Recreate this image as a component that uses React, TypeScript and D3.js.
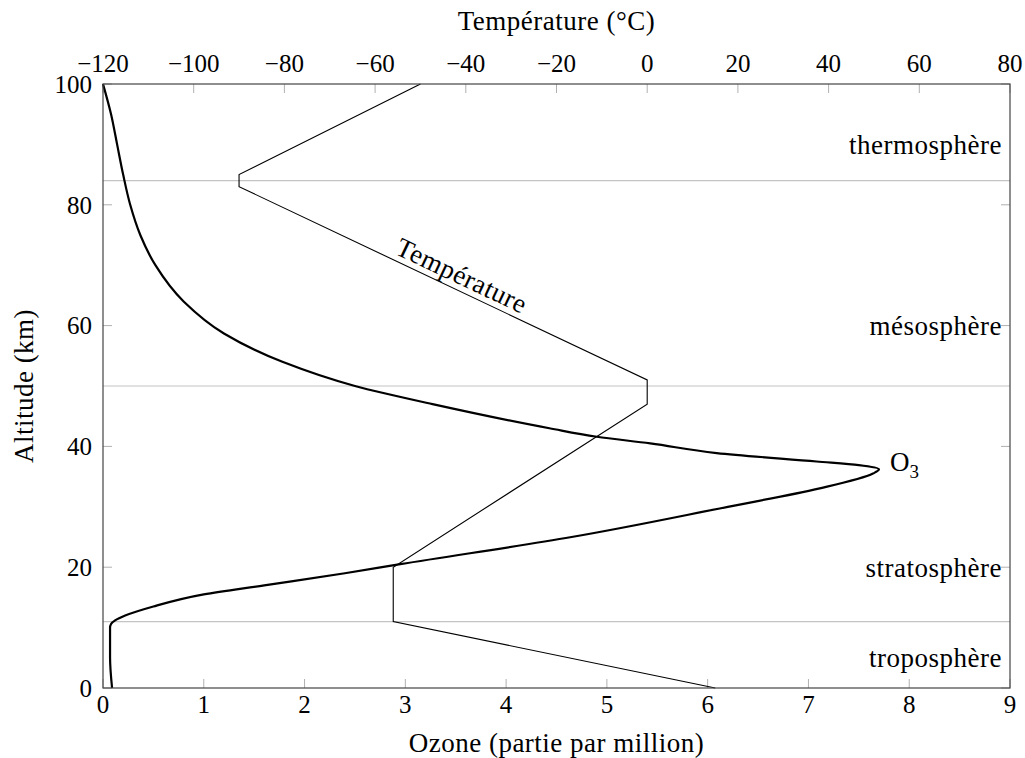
import React, { useEffect, useRef } from "react";
import * as d3 from "d3";

// ozone profile (ppm) read along altitude (km)
const ozoneAltitude = [0, 5, 10, 10.6, 11.2, 12, 13.5, 15.5, 17, 19, 20.5, 25, 30, 33, 35.5, 36.2, 36.9, 37.5, 38.9, 40.5, 41.6, 43, 47, 50, 54, 58.7, 64, 70, 75, 80, 85, 90, 95, 100];
const ozonePpm = [0.09, 0.07, 0.07, 0.08, 0.12, 0.22, 0.5, 1.0, 1.6, 2.4, 2.95, 4.65, 6.2, 7.1, 7.64, 7.7, 7.5, 7.08, 6.09, 5.43, 4.9, 4.43, 3.27, 2.5, 1.78, 1.2, 0.8, 0.52, 0.37, 0.27, 0.2, 0.14, 0.08, 0];

// temperature profile
const tempAltitude = [0, 11, 20, 47, 51, 83, 85, 100];
const tempCelsius = [15, -56, -56, 0, 0, -90, -90, -50];

// layer boundaries and names
const layerBounds = [11, 50, 84];
const layerNames = ["troposphère", "stratosphère", "mésosphère", "thermosphère"];
const layerLabelAlt = [5, 20, 60, 90];

const ozoneTicks = [0, 1, 2, 3, 4, 5, 6, 7, 8, 9];
const tempTicks = [-120, -100, -80, -60, -40, -20, 0, 20, 40, 60, 80];
const altTicks = [0, 20, 40, 60, 80, 100];

const FONT = '"Liberation Serif", "DejaVu Serif"';

export default function App() {
  const svgRef = useRef<SVGSVGElement>(null);

  useEffect(() => {
    const width = 1025;
    const height = 758;
    const margin = { top: 84, right: 15, bottom: 70, left: 103 };

    const svg = d3.select(svgRef.current);
    svg.selectAll("*").remove();
    svg.attr("width", width).attr("height", height);

    const x = d3.scaleLinear().domain([0, 9]).range([margin.left, width - margin.right]);
    const xt = d3.scaleLinear().domain([-120, 80]).range([margin.left, width - margin.right]);
    const y = d3.scaleLinear().domain([0, 100]).range([height - margin.bottom, margin.top]);

    const [x0, x1] = x.range();
    const [y0, y1] = y.range();
    const fmt = (v: number) => (v < 0 ? "\u2212" + Math.abs(v) : String(v));

    // layer separators
    svg
      .selectAll(".layer-line")
      .data(layerBounds)
      .enter()
      .append("line")
      .attr("x1", x0)
      .attr("x2", x1)
      .attr("y1", (d) => y(d))
      .attr("y2", (d) => y(d))
      .attr("stroke", "#c4c4c4")
      .attr("stroke-width", 1.2);

    // ticks (inside, mirrored)
    const tickLen = 9;
    const tickColor = "#b0b0b0";
    svg
      .selectAll(".xtick")
      .data(ozoneTicks)
      .enter()
      .append("line")
      .attr("x1", (d) => x(d))
      .attr("x2", (d) => x(d))
      .attr("y1", y0)
      .attr("y2", y0 - tickLen)
      .attr("stroke", tickColor);
    svg
      .selectAll(".ttick")
      .data(tempTicks)
      .enter()
      .append("line")
      .attr("x1", (d) => xt(d))
      .attr("x2", (d) => xt(d))
      .attr("y1", y1)
      .attr("y2", y1 + tickLen)
      .attr("stroke", tickColor);
    svg
      .selectAll(".ytick")
      .data(altTicks.flatMap((d) => [[d, x0, x0 + tickLen], [d, x1, x1 - tickLen]]))
      .enter()
      .append("line")
      .attr("x1", (d) => d[1])
      .attr("x2", (d) => d[2])
      .attr("y1", (d) => y(d[0]))
      .attr("y2", (d) => y(d[0]))
      .attr("stroke", tickColor);

    // temperature line
    const tempPts = tempAltitude.map((a, i) => [tempCelsius[i], a]);
    svg
      .append("path")
      .attr(
        "d",
        d3
          .line<number[]>()
          .x((d) => xt(d[0]))
          .y((d) => y(d[1]))(tempPts)
      )
      .attr("fill", "none")
      .attr("stroke", "#000")
      .attr("stroke-width", 1.1);

    // ozone curve
    const ozonePts = ozoneAltitude.map((a, i) => [ozonePpm[i], a]);
    svg
      .append("path")
      .attr(
        "d",
        d3
          .line<number[]>()
          .x((d) => x(d[0]))
          .y((d) => y(d[1]))
          .curve(d3.curveMonotoneY)(ozonePts)
      )
      .attr("fill", "none")
      .attr("stroke", "#000")
      .attr("stroke-width", 2.2)
      .attr("stroke-linejoin", "round");

    // frame
    svg
      .append("rect")
      .attr("x", x0)
      .attr("y", y1)
      .attr("width", x1 - x0)
      .attr("height", y0 - y1)
      .attr("fill", "none")
      .attr("stroke", "#444")
      .attr("stroke-width", 1.2);

    // digits at 25px, words a bit larger and looser (closer to the wide TeX face)
    const num = (sel: any) => sel.attr("font-family", FONT).attr("font-size", 25).attr("fill", "#000");
    const word = (sel: any) =>
      sel.attr("font-family", FONT).attr("font-size", 27).attr("letter-spacing", 0.5).attr("fill", "#000");

    // tick labels
    svg
      .selectAll(".xlab")
      .data(ozoneTicks)
      .enter()
      .append("text")
      .call(num)
      .attr("x", (d) => x(d))
      .attr("y", y0 + 25)
      .attr("text-anchor", "middle")
      .text((d) => fmt(d));
    svg
      .selectAll(".tlab")
      .data(tempTicks)
      .enter()
      .append("text")
      .call(num)
      .attr("x", (d) => xt(d))
      .attr("y", y1 - 12)
      .attr("text-anchor", "middle")
      .text((d) => fmt(d));
    svg
      .selectAll(".ylab")
      .data(altTicks)
      .enter()
      .append("text")
      .call(num)
      .attr("x", x0 - 11)
      .attr("y", (d) => y(d))
      .attr("dy", "0.35em")
      .attr("text-anchor", "end")
      .text((d) => fmt(d));

    // axis titles
    svg
      .append("text")
      .call(word)
      .attr("x", (x0 + x1) / 2)
      .attr("y", 30)
      .attr("text-anchor", "middle")
      .text("Température (°C)");
    svg
      .append("text")
      .call(word)
      .attr("x", (x0 + x1) / 2)
      .attr("y", 752)
      .attr("text-anchor", "middle")
      .text("Ozone (partie par million)");
    svg
      .append("text")
      .call(word)
      .attr("transform", `translate(33, ${(y0 + y1) / 2}) rotate(-90)`)
      .attr("text-anchor", "middle")
      .text("Altitude (km)");

    // layer names
    svg
      .selectAll(".layer-name")
      .data(layerNames)
      .enter()
      .append("text")
      .call(word)
      .attr("x", x1 - 8)
      .attr("y", (d, i) => y(layerLabelAlt[i]))
      .attr("dy", "0.35em")
      .attr("text-anchor", "end")
      .text((d) => d);

    // sloped label on the mesosphere temperature segment
    const pa = [xt(tempCelsius[4]), y(tempAltitude[4])];
    const pb = [xt(tempCelsius[5]), y(tempAltitude[5])];
    const t = 0.47;
    const px = pa[0] + (pb[0] - pa[0]) * t;
    const py = pa[1] + (pb[1] - pa[1]) * t;
    const angle = (Math.atan2(pa[1] - pb[1], pa[0] - pb[0]) * 180) / Math.PI;
    svg
      .append("text")
      .call(word)
      .attr("transform", `translate(${px}, ${py}) rotate(${angle})`)
      .attr("dy", -6)
      .attr("text-anchor", "middle")
      .text("Température");

    // O3 label next to the ozone maximum
    const peak = d3.maxIndex(ozonePpm);
    const o3 = svg
      .append("text")
      .call(num)
      .attr("font-size", 27)
      .attr("x", x(ozonePpm[peak]) + 11)
      .attr("y", y(ozoneAltitude[peak]) + 2);
    o3.append("tspan").text("O");
    o3.append("tspan").attr("dy", 7).attr("font-size", 19).text("3");
  }, []);

  return <svg ref={svgRef} style={{ position: "absolute", left: 0, top: 0 }}></svg>;
}
